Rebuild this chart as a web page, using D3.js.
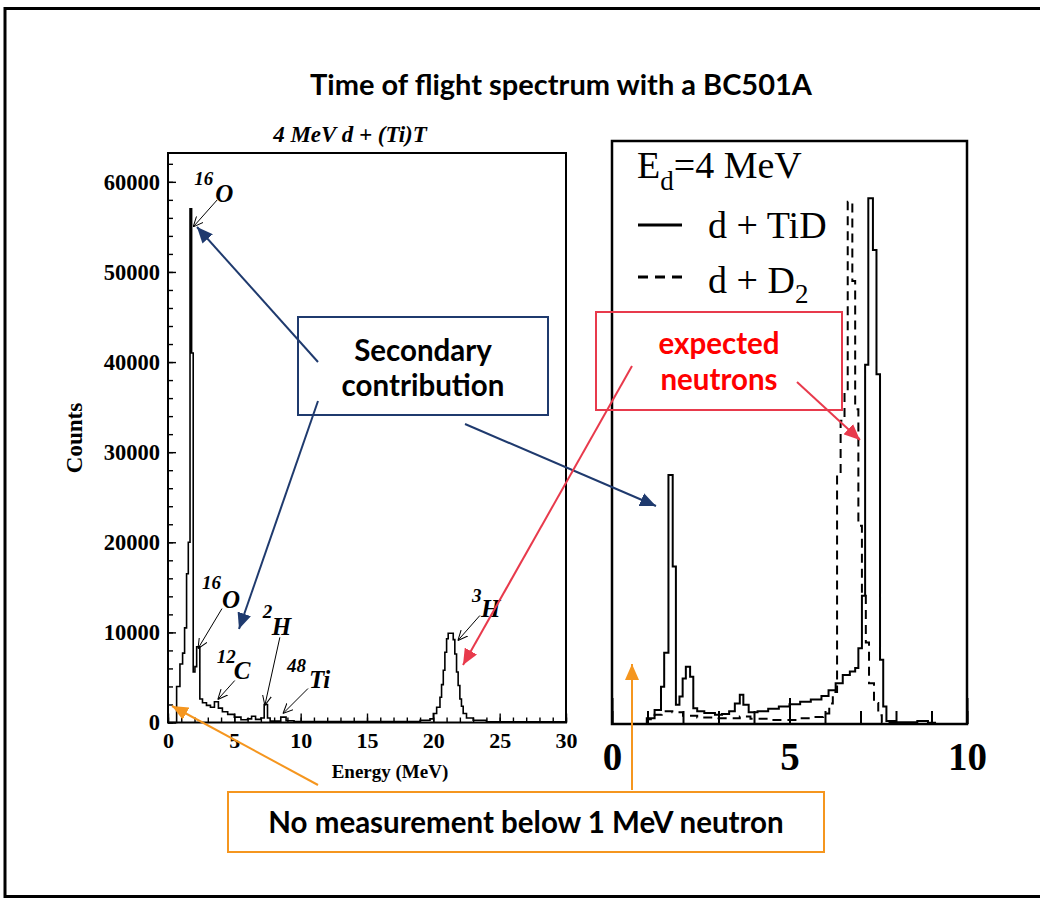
<!DOCTYPE html>
<html><head><meta charset="utf-8">
<script src="https://cdn.jsdelivr.net/npm/d3@7"></script>
<style>body{margin:0;background:#fff}svg{display:block}</style>
</head><body><svg id="c" width="1040" height="901"></svg>
<script>
// ---------------- DATA ----------------
// Left panel: 4 MeV d + (Ti)T, histogram bin edges (MeV) and counts
const leftEdges = [0,0.65,0.9,1.1,1.25,1.4,1.53,1.66,1.78,1.9,2.03,2.16,2.4,2.6,2.9,3.2,3.5,3.8,4.1,4.5,5.0,5.5,6.0,6.3,6.6,7.0,7.25,7.5,7.7,8.5,8.9,9.5,19.0,19.75,20.0,20.25,20.5,20.62,20.75,20.87,21.0,21.12,21.5,21.62,21.75,21.87,22.0,22.12,22.25,22.5,23.0,24.0,30.0];
const leftCounts = [0,4000,6500,7700,10500,16500,20000,57000,41000,5600,6200,8400,2600,2200,1900,1700,2300,1600,1200,900,600,300,400,700,350,500,2000,500,150,600,200,100,250,400,1000,1700,2800,4200,5800,7800,9300,9900,9200,7600,5600,4100,2600,1800,1000,500,250,80];
const leftXTicks = [0,5,10,15,20,25,30];
const leftYTicks = [0,10000,20000,30000,40000,50000,60000];

// Right panel: Ed = 4 MeV, d + TiD (solid) and d + D2 (dashed), arbitrary units
const solidEdges = [0.98,1.2,1.38,1.47,1.59,1.71,1.80,1.90,1.99,2.08,2.2,2.29,2.4,2.6,2.9,3.1,3.3,3.46,3.6,3.7,3.85,4.1,4.4,4.7,5.0,5.3,5.6,5.9,6.1,6.3,6.5,6.7,6.85,6.94,7.04,7.13,7.22,7.35,7.45,7.55,7.64,7.73,8.0,8.6,8.9,9.1];
const solidCounts = [1.0,2.4,6.4,12.2,42.7,27,3.3,4.7,7.8,9.8,8.1,2.7,2.2,1.9,1.6,1.7,2.2,3.5,5.0,3.3,2.0,2.2,2.6,3.0,3.4,3.8,4.2,4.8,5.8,7.0,8.4,9.0,9.6,13,22,61.6,90.2,81.3,60,11,3,0.5,0.3,0.5,0.2];
const dashedEdges = [1.0,1.2,1.4,1.7,2.0,2.4,3.0,3.6,3.9,4.5,5.2,5.6,5.95,6.12,6.22,6.34,6.44,6.55,6.64,6.77,6.85,6.94,7.04,7.15,7.24,7.38,7.5,7.6,8.0];
const dashedCounts = [0.8,1.6,2.2,2.0,1.4,1.1,1.0,1.3,0.9,0.7,1.0,1.2,1.8,3.5,5.5,43,52,57,89.6,76,54,34,22,14,7,3.6,1.5,0.3];
const rightXTicks = [0,5,10];

// Annotations on the left panel (tip at data coords)
const isotopeLabels = [
  {mass:"16", sym:"O",  E:1.9,  c:55000, sup:[1,-42],  main:[22,-25], from:[24,-27]},
  {mass:"16", sym:"O",  E:2.26, c:8200,  sup:[4,-60],  main:[24,-41], from:[24,-40]},
  {mass:"12", sym:"C",  E:3.75, c:2550,  sup:[-1,-37], main:[16,-21], from:[17,-19]},
  {mass:"2",  sym:"H",  E:7.3,  c:1900,  sup:[-2,-87], main:[7,-70],  from:[15,-68]},
  {mass:"48", sym:"Ti", E:8.67, c:1000,  sup:[4,-41],  main:[26,-25], from:[25,-25]},
  {mass:"3",  sym:"H",  E:21.85,c:9100,  sup:[14,-38], main:[23,-23], from:[22,-25]}
];

// ---------------- DRAW ----------------
const svg = d3.select('#c');
const serif = '"Liberation Serif","Times New Roman",serif';
const sans = 'Lato,"Open Sans",sans-serif';

// outer frame
svg.append('rect').attr('x',5).attr('y',8.5).attr('width',1040).attr('height',888)
  .attr('fill','none').attr('stroke','#000').attr('stroke-width',3);

svg.append('text').attr('x',561).attr('y',95).attr('text-anchor','middle')
  .attr('font-family',sans).attr('font-weight','bold').attr('font-size',29)
  .text('Time of flight spectrum with a BC501A');

const defs = svg.append('defs');
function tri(id,color){
  defs.append('marker').attr('id',id).attr('viewBox','0 0 16 14').attr('refX',16).attr('refY',7)
    .attr('markerWidth',16).attr('markerHeight',14).attr('markerUnits','userSpaceOnUse').attr('orient','auto')
    .append('path').attr('d','M0,0 L16,7 L0,14 Z').attr('fill',color);
}
tri('navy','#1f3a6e'); tri('red','#e83a4c'); tri('orange','#f5961f');
defs.append('marker').attr('id','thin').attr('viewBox','0 0 10 10').attr('refX',10).attr('refY',5)
  .attr('markerWidth',10).attr('markerHeight',10).attr('markerUnits','userSpaceOnUse').attr('orient','auto')
  .append('path').attr('d','M0,0.5 L10,5 L0,9.5').attr('fill','none').attr('stroke','#000').attr('stroke-width',1);

function stepPts(edges,counts){
  const p=[[edges[0],0]];
  counts.forEach((c,i)=>p.push([edges[i],c]));
  p.push([edges[edges.length-1],counts[counts.length-1]]);
  p.push([edges[edges.length-1],0]);
  return p;
}
function styleAxis(g,size,weight){
  g.select('.domain').remove();
  g.selectAll('.tick line').attr('stroke','#000').attr('stroke-width',1.4);
  g.selectAll('text').attr('font-family',serif).attr('font-weight',weight).attr('font-size',size).attr('fill','#000');
}

// ---- Left panel ----
const xL = d3.scaleLinear().domain([0,30]).range([168,566]);
const yL = d3.scaleLinear().domain([0,63200]).range([722.5,153]);
const gL = svg.append('g');

gL.append('g').attr('transform',`translate(0,${yL(0)})`)
  .call(d3.axisBottom(xL).tickValues(d3.range(0,31)).tickSizeInner(-5).tickSizeOuter(0).tickFormat(''))
  .call(g=>styleAxis(g,22,'bold'));
gL.append('g').attr('transform',`translate(0,${yL(0)})`)
  .call(d3.axisBottom(xL).tickValues(leftXTicks).tickSizeInner(-9).tickSizeOuter(0).tickPadding(10).tickFormat(d3.format('d')))
  .call(g=>styleAxis(g,22,'bold'));
gL.append('g').attr('transform',`translate(${xL(0)},0)`)
  .call(d3.axisLeft(yL).tickValues(d3.range(0,63000,2000)).tickSizeInner(-5).tickSizeOuter(0).tickFormat(''))
  .call(g=>styleAxis(g,22,'bold'));
gL.append('g').attr('transform',`translate(${xL(0)},0)`)
  .call(d3.axisLeft(yL).tickValues(leftYTicks).tickSizeInner(-8).tickSizeOuter(0).tickPadding(8).tickFormat(d3.format('d')))
  .call(g=>styleAxis(g,22.5,'bold'));

gL.append('path').datum(stepPts(leftEdges,leftCounts))
  .attr('d',d3.line().x(d=>xL(d[0])).y(d=>yL(d[1])).curve(d3.curveStepAfter))
  .attr('fill','none').attr('stroke','#000').attr('stroke-width',1.6);

gL.append('rect').attr('x',xL(0)).attr('y',yL.range()[1]).attr('width',xL(30)-xL(0)).attr('height',yL(0)-yL.range()[1])
  .attr('fill','none').attr('stroke','#000').attr('stroke-width',2);

gL.append('text').attr('x',350).attr('y',142).attr('text-anchor','middle')
  .attr('font-family',serif).attr('font-weight','bold').attr('font-style','italic').attr('font-size',23)
  .text('4 MeV d + (Ti)T');
gL.append('text').attr('x',390).attr('y',778).attr('text-anchor','middle')
  .attr('font-family',serif).attr('font-weight','bold').attr('font-size',19).text('Energy (MeV)');
gL.append('text').attr('transform','translate(82,438) rotate(-90)').attr('text-anchor','middle')
  .attr('font-family',serif).attr('font-weight','bold').attr('font-size',23).text('Counts');

isotopeLabels.forEach(a=>{
  const tx=xL(a.E), ty=yL(a.c);
  gL.append('line').attr('x1',tx+a.from[0]).attr('y1',ty+a.from[1]).attr('x2',tx).attr('y2',ty)
    .attr('stroke','#000').attr('stroke-width',1).attr('marker-end','url(#thin)');
  gL.append('text').attr('x',tx+a.sup[0]).attr('y',ty+a.sup[1])
    .attr('font-family',serif).attr('font-weight','bold').attr('font-style','italic').attr('font-size',19).text(a.mass);
  gL.append('text').attr('x',tx+a.main[0]).attr('y',ty+a.main[1])
    .attr('font-family',serif).attr('font-weight','bold').attr('font-style','italic').attr('font-size',25).text(a.sym);
});

// ---- Right panel ----
const xR = d3.scaleLinear().domain([0,10]).range([612,967]);
const yR = d3.scaleLinear().domain([0,100]).range([724,141]);
const gR = svg.append('g');

gR.append('g').attr('transform',`translate(0,${yR(0)})`)
  .call(d3.axisBottom(xR).tickValues(d3.range(0,11)).tickSizeInner(-13).tickSizeOuter(0).tickFormat(''))
  .call(g=>styleAxis(g,38,'bold'));
gR.append('g').attr('transform',`translate(0,${yR(0)})`)
  .call(d3.axisBottom(xR).tickValues(rightXTicks).tickSizeInner(-26).tickSizeOuter(0).tickPadding(18).tickFormat(d3.format('d')))
  .call(g=>styleAxis(g,39,'bold'));
gR.selectAll('.tick line').attr('stroke-width',2);

const lineR = d3.line().x(d=>xR(d[0])).y(d=>yR(d[1])).curve(d3.curveStepAfter);
gR.append('path').datum(stepPts(dashedEdges,dashedCounts)).attr('d',lineR)
  .attr('fill','none').attr('stroke','#000').attr('stroke-width',2).attr('stroke-dasharray','9,6');
gR.append('path').datum(stepPts(solidEdges,solidCounts)).attr('d',lineR)
  .attr('fill','none').attr('stroke','#000').attr('stroke-width',2);

gR.append('rect').attr('x',xR(0)).attr('y',yR(100)).attr('width',xR(10)-xR(0)).attr('height',yR(0)-yR(100))
  .attr('fill','none').attr('stroke','#000').attr('stroke-width',2.5);

// legend
const lg = gR.append('g').attr('font-family',serif).attr('fill','#000');
const t1 = lg.append('text').attr('x',637).attr('y',178).attr('font-size',38);
t1.append('tspan').text('E');
t1.append('tspan').attr('font-size',27).attr('dy',12).text('d');
t1.append('tspan').attr('dy',-12).text('=4 MeV');
lg.append('line').attr('x1',638).attr('x2',682).attr('y1',225).attr('y2',225).attr('stroke','#000').attr('stroke-width',3);
lg.append('text').attr('x',708).attr('y',238).attr('font-size',38).text('d + TiD');
lg.append('line').attr('x1',638).attr('x2',682).attr('y1',277).attr('y2',277).attr('stroke','#000').attr('stroke-width',3).attr('stroke-dasharray','10,7');
const t3 = lg.append('text').attr('x',708).attr('y',293).attr('font-size',38);
t3.append('tspan').text('d + D');
t3.append('tspan').attr('font-size',27).attr('dy',10).text('2');

// ---- Callout boxes and arrows ----
const ov = svg.append('g');
function box(x,y,w,h,color){ ov.append('rect').attr('x',x).attr('y',y).attr('width',w).attr('height',h)
  .attr('fill','none').attr('stroke',color).attr('stroke-width',2); }
function arrow(x1,y1,x2,y2,color,m){ ov.append('line').attr('x1',x1).attr('y1',y1).attr('x2',x2).attr('y2',y2)
  .attr('stroke',color).attr('stroke-width',2).attr('marker-end',`url(#${m})`); }
function label(x,y,t,color){ ov.append('text').attr('x',x).attr('y',y).attr('text-anchor','middle')
  .attr('font-family',sans).attr('font-weight','bold').attr('font-size',29.5).attr('fill',color).text(t); }

box(298,317,250,98,'#1f3a6e');
label(423,361,'Secondary','#000'); label(423,396,'contribution','#000');
arrow(318,362,197,227,'#1f3a6e','navy');
arrow(318,401,239,629,'#1f3a6e','navy');
arrow(465,424,656,506,'#1f3a6e','navy');

box(596,312,246,98,'#e83a4c');
label(719,354,'expected','#ff0000'); label(719,390,'neutrons','#ff0000');
arrow(632,366,463,665,'#e83a4c','red');
arrow(797,382,860,440,'#e83a4c','red');

box(228,792,596,60,'#f5961f');
label(526,833,'No measurement below 1 MeV neutron','#000');
arrow(318,785,172,706,'#f5961f','orange');
arrow(632,790,632,664,'#f5961f','orange');
</script></body></html>
